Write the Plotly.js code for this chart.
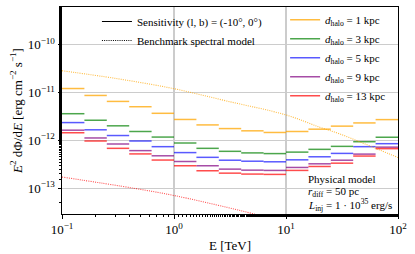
<!DOCTYPE html>
<html><head><meta charset="utf-8">
<script src="https://cdn.plot.ly/plotly-3.0.1.min.js"></script>
<style>html,body{margin:0;padding:0;background:#fff}#plot{width:415px;height:254px}</style>
</head><body><div id="plot"></div>
<script>
// Energy bin edges [TeV]
const binEdges = [0.1, 0.1585, 0.2512, 0.3981, 0.631, 1.0, 1.585, 2.512, 3.981, 6.31, 10, 15.85, 25.12, 39.81, 63.1, 100];
// Sensitivity per bin [erg cm^-2 s^-1]
const sens1kpc  = [1.21e-11, 8.67e-12, 6.51e-12, 5.04e-12, 3.67e-12, 2.73e-12, 2.10e-12, 1.76e-12, 1.58e-12, 1.46e-12, 1.53e-12, 1.71e-12, 1.98e-12, 2.31e-12, 2.71e-12];
const sens3kpc  = [3.60e-12, 2.63e-12, 2.01e-12, 1.53e-12, 1.17e-12, 8.79e-13, 6.80e-13, 5.89e-13, 5.46e-13, 5.28e-13, 5.67e-13, 6.48e-13, 7.48e-13, 9.35e-13, 1.16e-12];
const sens5kpc  = [2.35e-12, 1.66e-12, 1.26e-12, 9.68e-13, 7.37e-13, 5.54e-13, 4.41e-13, 3.84e-13, 3.66e-13, 3.56e-13, 3.91e-13, 4.53e-13, 5.33e-13, 7.37e-13, 8.51e-13];
const sens9kpc  = [1.63e-12, 1.12e-12, 8.38e-13, 6.09e-13, 4.75e-13, 3.61e-13, 2.94e-13, 2.50e-13, 2.38e-13, 2.35e-13, 2.71e-13, 3.23e-13, 3.84e-13, 5.15e-13, 7.20e-13];
const sens13kpc = [1.44e-12, 9.68e-13, 6.80e-13, 5.20e-13, 3.87e-13, 2.94e-13, 2.31e-13, 2.06e-13, 1.97e-13, 1.94e-13, 2.35e-13, 2.84e-13, 3.33e-13, 4.69e-13, 6.70e-13];
// Benchmark spectral model
const benchE1 = [0.1, 0.3, 1, 3, 10, 20, 30, 50, 100];
const bench1kpc = [2.85e-11, 1.97e-11, 1.20e-11, 6.58e-12, 3.39e-12, 1.88e-12, 1.37e-12, 8.51e-13, 4.37e-13];
const benchE13 = [0.1, 0.433, 1, 3, 5, 10];
const bench13kpc = [1.71e-13, 1.0e-13, 7.03e-14, 3.96e-14, 2.95e-14, 2.0e-14];
// Labels
const seriesNames = ['<i>d</i><sub>halo</sub> = 1 kpc', '<i>d</i><sub>halo</sub> = 3 kpc', '<i>d</i><sub>halo</sub> = 5 kpc', '<i>d</i><sub>halo</sub> = 9 kpc', '<i>d</i><sub>halo</sub> = 13 kpc'];
const seriesColors = ['rgba(255,165,0,0.75)', 'rgba(0,128,0,0.7)', 'rgba(0,0,255,0.65)', 'rgba(128,0,128,0.7)', 'rgba(255,0,0,0.7)'];
const xTickVals = [0.1, 1, 10, 100];
const xTickText = ['10<sup>−1</sup>', '10<sup>0</sup>', '10<sup>1</sup>', '10<sup>2</sup>'];
const yTickVals = [1e-13, 1e-12, 1e-11, 1e-10];
const yTickText = ['10<sup>−13</sup>', '10<sup>−12</sup>', '10<sup>−11</sup>', '10<sup>−10</sup>'];
const noteLines = ['Physical model', '<i>r</i><sub>diff</sub> = 50 pc', '<i>L</i><sub>inj</sub> = 1 · 10<sup>35</sup> erg/s'];

const FONT = "'Liberation Serif', 'DejaVu Serif', serif";
const DOTS = '1px,1.2px';

function steps(vals) {
  const x = [], y = [];
  vals.forEach((v, i) => { x.push(binEdges[i], binEdges[i + 1], null); y.push(v, v, null); });
  return {x, y};
}

const allSens = [sens1kpc, sens3kpc, sens5kpc, sens9kpc, sens13kpc];
const traces = [];
traces.push({x: [null], y: [null], mode: 'lines', name: 'Sensitivity (l, b) = (-10°, 0°)', line: {color: 'black', width: 1}, legend: 'legend'});
traces.push({x: [null], y: [null], mode: 'lines', name: 'Benchmark spectral model', line: {color: 'black', width: 1, dash: DOTS}, legend: 'legend'});
allSens.forEach((s, i) => {
  const st = steps(s);
  traces.push({x: st.x, y: st.y, mode: 'lines', name: seriesNames[i], line: {color: seriesColors[i], width: 1.5}, legend: 'legend2', connectgaps: false});
});
traces.push({x: benchE1, y: bench1kpc, mode: 'lines', showlegend: false, line: {color: seriesColors[0], width: 1.1, dash: DOTS, shape: 'spline'}});
traces.push({x: benchE13, y: bench13kpc, mode: 'lines', showlegend: false, line: {color: seriesColors[4], width: 1.1, dash: DOTS, shape: 'spline'}});

const axisCommon = {
  type: 'log', showline: true, mirror: true, linecolor: 'black', linewidth: 1,
  ticks: 'outside', ticklen: 3.5, tickcolor: 'black', showgrid: true, gridcolor: '#cccccc', gridwidth: 1.2,
  zeroline: false, tickfont: {family: FONT, size: 13, color: 'black'},
  minor: {ticks: 'outside', ticklen: 2, tickcolor: 'black', showgrid: false}
};

const layout = {
  width: 415, height: 254,
  margin: {l: 62, r: 17, t: 5, b: 40},
  paper_bgcolor: 'white', plot_bgcolor: 'white',
  font: {family: FONT, color: 'black'},
  xaxis: Object.assign({}, axisCommon, {range: [-1, 2], tickvals: xTickVals, ticktext: xTickText,
    title: {text: 'E [TeV]', font: {family: FONT, size: 13}, standoff: 4}}),
  yaxis: Object.assign({}, axisCommon, {range: [-13.54, -9.213], tickvals: yTickVals, ticktext: yTickText,
    title: {text: '<i>E</i><sup>2</sup> dΦ/d<i>E</i> [erg cm<sup>−2</sup> s<sup>−1</sup>]', font: {family: FONT, size: 13}, standoff: 2}}),
  legend: {x: 0.104, y: 1.0, xanchor: 'left', yanchor: 'top', bgcolor: 'rgba(0,0,0,0)', font: {family: FONT, size: 11}, tracegroupgap: 0},
  legend2: {x: 0.664, y: 1.009, xanchor: 'left', yanchor: 'top', bgcolor: 'rgba(0,0,0,0)', font: {family: FONT, size: 11}, tracegroupgap: 0},
  annotations: noteLines.map((t, i) => ({
    xref: 'paper', yref: 'paper', x: 0.726, y: [0.1675, 0.105, 0.043][i], xanchor: 'left', yanchor: 'middle', showarrow: false, align: 'left',
    text: t, font: {family: FONT, size: 11, color: 'black'}
  }))
};

Plotly.newPlot('plot', traces, layout, {displayModeBar: false, staticPlot: true});
</script>
</body></html>
